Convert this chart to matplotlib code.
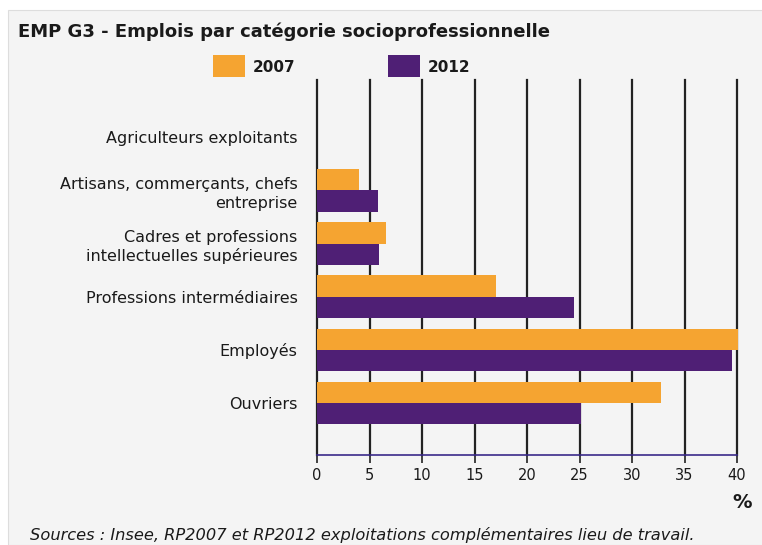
import matplotlib
matplotlib.use('Agg')
import matplotlib.pyplot as plt
import matplotlib.patches as mpatches
import numpy as np

ORANGE = '#F5A431'
PURPLE = '#4F1F75'
BG = '#F4F4F4'
TXT = '#1a1a1a'

categories = ['Agriculteurs exploitants',
              'Artisans, commerçants, chefs\nentreprise',
              'Cadres et professions\nintellectuelles supérieures',
              'Professions intermédiaires',
              'Employés',
              'Ouvriers']
v2007 = [0.0, 4.0, 6.6, 17.0, 40.1, 32.8]
v2012 = [0.0, 5.8, 5.9, 24.5, 39.5, 25.1]
xticks = [0, 5, 10, 15, 20, 25, 30, 35, 40]

plt.rcParams['font.family'] = ['DejaVu Sans']

W, H = 762, 545
fig = plt.figure(figsize=(W / 100, H / 100), dpi=100)
fig.patch.set_facecolor('white')
bg = mpatches.Rectangle((8 / W, 0), 1, 1 - 10 / H, transform=fig.transFigure,
                        facecolor=BG, edgecolor='#dddddd', linewidth=0.8, zorder=-10)
fig.patches.append(bg)

ax = fig.add_axes([317 / W, 1 - 455 / H, 420 / W, 375 / H])
ax.set_zorder(5)
ax.set_facecolor('none')
y = np.arange(len(categories))
h = 0.4
ax.barh(y - h / 2, v2007, h, color=ORANGE, zorder=3, clip_on=False)
ax.barh(y + h / 2, v2012, h, color=PURPLE, zorder=3)
ax.set_xlim(0, 40)
ax.set_ylim(5.98, -1.08)

for t in xticks:
    ax.axvline(t, color='#222222', linewidth=1.6, zorder=1, clip_on=False)
for s in ['top', 'right', 'left']:
    ax.spines[s].set_visible(False)
ax.spines['bottom'].set_color('#3a2a8a')
ax.spines['bottom'].set_linewidth(1.2)
ax.spines['bottom'].set_zorder(4)

ax.set_xticks(xticks)
ax.set_xticklabels([str(t) for t in xticks], fontsize=10.5, color=TXT)
ax.tick_params(axis='x', length=6, width=1.2, color='#222222', pad=3)
ax.set_yticks(y)
ax.set_yticklabels(categories, fontsize=11.5, color=TXT, linespacing=1.3)
ax.tick_params(axis='y', length=0, pad=14)

fig.text(18 / W, 1 - 32 / H, 'EMP G3 - Emplois par catégorie socioprofessionnelle',
         fontsize=13, fontweight='bold', color=TXT, va='center', ha='left')

# legend
for x0, col, lab in [(213, ORANGE, '2007'), (388, PURPLE, '2012')]:
    fig.patches.append(mpatches.Rectangle((x0 / W, 1 - 77 / H), 32 / W, 22 / H,
                                          transform=fig.transFigure, facecolor=col, zorder=2))
    fig.text((x0 + 40) / W, 1 - 67 / H, lab, fontsize=11, fontweight='bold',
             color=TXT, va='center', ha='left')

fig.text(752 / W, 1 - 503 / H, '%', fontsize=14, fontweight='bold', color=TXT,
         va='center', ha='right')
fig.text(30 / W, 1 - 535 / H,
         'Sources : Insee, RP2007 et RP2012 exploitations complémentaires lieu de travail.',
         fontsize=11.7, fontstyle='italic', color=TXT, va='center', ha='left')

fig.savefig('out.png', dpi=100, facecolor=fig.get_facecolor())
